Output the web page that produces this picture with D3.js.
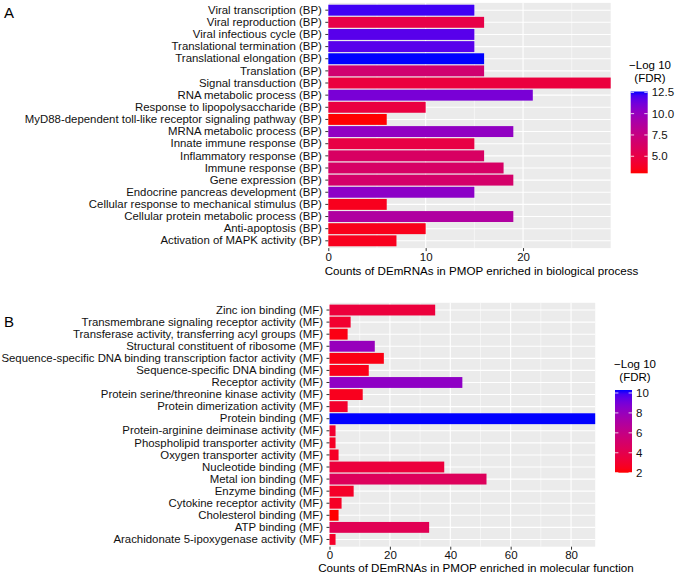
<!DOCTYPE html>
<html><head><meta charset="utf-8">
<script src="https://cdn.jsdelivr.net/npm/d3@7"></script>
<style>body{margin:0;background:#fff} svg{display:block;font-family:"Liberation Sans",Arial,sans-serif}</style>
</head><body><svg id="c" width="677" height="576"></svg>
<script>
// ---- Data (top-to-bottom order as displayed) ----
const bpCategories = [
  "Viral transcription (BP)", "Viral reproduction (BP)", "Viral infectious cycle (BP)",
  "Translational termination (BP)", "Translational elongation (BP)", "Translation (BP)",
  "Signal transduction (BP)", "RNA metabolic process (BP)", "Response to lipopolysaccharide (BP)",
  "MyD88-dependent toll-like receptor signaling pathway (BP)", "MRNA metabolic process (BP)",
  "Innate immune response (BP)", "Inflammatory response (BP)", "Immune response (BP)",
  "Gene expression (BP)", "Endocrine pancreas development (BP)",
  "Cellular response to mechanical stimulus (BP)", "Cellular protein metabolic process (BP)",
  "Anti-apoptosis (BP)", "Activation of MAPK activity (BP)"
];
const bpCounts = [15, 16, 15, 15, 16, 16, 29, 21, 10, 6, 19, 15, 16, 18, 19, 15, 6, 19, 10, 7];
const bpLogFDR = [12.2, 5.1, 11.8, 11.8, 12.6, 6.8, 4.7, 11.0, 4.8, 3.0, 10.2, 5.0, 6.2, 6.3, 6.5, 10.4, 3.6, 8.8, 3.5, 3.6];
const bpTicks = [0, 10, 20];
const bpLegendTicks = [5.0, 7.5, 10.0, 12.5];

const mfCategories = [
  "Zinc ion binding (MF)", "Transmembrane signaling receptor activity (MF)",
  "Transferase activity, transferring acyl groups (MF)", "Structural constituent of ribosome (MF)",
  "Sequence-specific DNA binding transcription factor activity (MF)",
  "Sequence-specific DNA binding (MF)", "Receptor activity (MF)",
  "Protein serine/threonine kinase activity (MF)", "Protein dimerization activity (MF)",
  "Protein binding (MF)", "Protein-arginine deiminase activity (MF)",
  "Phospholipid transporter activity (MF)", "Oxygen transporter activity (MF)",
  "Nucleotide binding (MF)", "Metal ion binding (MF)", "Enzyme binding (MF)",
  "Cytokine receptor activity (MF)", "Cholesterol binding (MF)", "ATP binding (MF)",
  "Arachidonate 5-ipoxygenase activity (MF)"
];
const mfCounts = [35, 7, 6, 15, 18, 13, 44, 11, 6, 88, 2, 2, 3, 38, 52, 8, 4, 3, 33, 2];
const mfLogFDR = [3.4, 3.0, 2.3, 8.0, 2.3, 2.4, 8.3, 2.5, 2.9, 10.3, 3.0, 2.7, 2.7, 3.4, 4.5, 2.8, 2.7, 2.0, 4.2, 2.8];
const mfTicks = [0, 20, 40, 60, 80];
const mfLegendTicks = [2, 4, 6, 8, 10];

const xTitleBP = "Counts of DEmRNAs in PMOP enriched in biological process";
const xTitleMF = "Counts of DEmRNAs in PMOP enriched in molecular function";

// ---- Drawing ----
const svg = d3.select("#c");
svg.append("rect").attr("width", 677).attr("height", 576).attr("fill", "#fff");

function drawPanel(cfg) {
  const g = svg.append("g");
  const x = d3.scaleLinear().domain([0, cfg.xMax]).range([cfg.left, cfg.right]);
  const y = d3.scaleBand().domain(cfg.categories).range([cfg.top, cfg.bottom])
    .paddingInner(0.1).paddingOuter(0.15);
  const color = d3.scaleLinear().domain(d3.extent(cfg.fdr)).range(["red", "blue"])
    .interpolate(d3.interpolateLab);

  g.append("rect").attr("x", cfg.left).attr("y", cfg.top)
    .attr("width", cfg.right - cfg.left).attr("height", cfg.bottom - cfg.top).attr("fill", "#EBEBEB");
  const minor = cfg.ticks.slice(0, -1).map((t, i) => (t + cfg.ticks[i + 1]) / 2);
  const step = cfg.ticks[1] - cfg.ticks[0];
  const last = cfg.ticks[cfg.ticks.length - 1] + step / 2;
  if (last < cfg.xMax) minor.push(last);
  g.selectAll(".mn").data(minor).enter().append("line")
    .attr("x1", d => x(d)).attr("x2", d => x(d)).attr("y1", cfg.top).attr("y2", cfg.bottom)
    .attr("stroke", "#fff").attr("stroke-width", 0.55);
  g.selectAll(".mj").data(cfg.ticks).enter().append("line")
    .attr("x1", d => x(d)).attr("x2", d => x(d)).attr("y1", cfg.top).attr("y2", cfg.bottom)
    .attr("stroke", "#fff").attr("stroke-width", 1.1);
  g.selectAll(".hg").data(cfg.categories).enter().append("line")
    .attr("x1", cfg.left).attr("x2", cfg.right)
    .attr("y1", d => y(d) + y.bandwidth() / 2).attr("y2", d => y(d) + y.bandwidth() / 2)
    .attr("stroke", "#fff").attr("stroke-width", 1.1);

  g.selectAll(".bar").data(cfg.categories).enter().append("rect")
    .attr("x", x(0)).attr("y", d => y(d))
    .attr("width", (d, i) => x(cfg.counts[i]) - x(0))
    .attr("height", y.bandwidth())
    .attr("fill", (d, i) => color(cfg.fdr[i]));

  const yAxis = g.append("g").attr("transform", `translate(${cfg.left},0)`)
    .call(d3.axisLeft(y).tickSize(3).tickPadding(3.5));
  yAxis.select(".domain").remove();
  yAxis.selectAll("line").attr("stroke", "#333").attr("stroke-width", 1);
  yAxis.selectAll("text").attr("fill", "#111").style("font-size", "11.4px")
    .style("font-family", '"Liberation Sans", Arial, sans-serif');

  const xAxis = g.append("g").attr("transform", `translate(0,${cfg.bottom})`)
    .call(d3.axisBottom(x).tickValues(cfg.ticks).tickFormat(d3.format("d")).tickSize(3).tickPadding(1.5));
  xAxis.select(".domain").remove();
  xAxis.selectAll("line").attr("stroke", "#333").attr("stroke-width", 1);
  xAxis.selectAll("text").attr("fill", "#111").style("font-size", "11.5px")
    .style("font-family", '"Liberation Sans", Arial, sans-serif');

  g.append("text").attr("x", cfg.titleX).attr("y", cfg.titleY).attr("text-anchor", "middle")
    .attr("fill", "#000").style("font-size", "11.6px").text(cfg.xTitle);

  g.append("text").attr("x", 4).attr("y", cfg.letterY).attr("fill", "#000")
    .style("font-size", "15px").text(cfg.letter);

  const lg = cfg.legend;
  const ext = d3.extent(cfg.fdr);
  const ly = d3.scaleLinear().domain(ext).range([lg.bottom, lg.top]);
  const gid = "grad" + cfg.letter;
  const grad = svg.append("defs").append("linearGradient").attr("id", gid)
    .attr("x1", 0).attr("y1", 1).attr("x2", 0).attr("y2", 0);
  d3.range(0, 1.0001, 0.05).forEach(t => {
    grad.append("stop").attr("offset", t).attr("stop-color", color(ext[0] + t * (ext[1] - ext[0])));
  });
  g.append("rect").attr("x", lg.x).attr("y", lg.top).attr("width", lg.w)
    .attr("height", lg.bottom - lg.top).attr("fill", `url(#${gid})`);
  lg.ticks.forEach(t => {
    const yy = ly(t);
    g.append("line").attr("x1", lg.x).attr("x2", lg.x + lg.w / 5).attr("y1", yy).attr("y2", yy)
      .attr("stroke", "#fff").attr("stroke-width", 0.8);
    g.append("line").attr("x1", lg.x + lg.w * 4 / 5).attr("x2", lg.x + lg.w).attr("y1", yy).attr("y2", yy)
      .attr("stroke", "#fff").attr("stroke-width", 0.8);
    g.append("text").attr("x", lg.x + lg.w + 4).attr("y", yy).attr("dy", "0.36em")
      .attr("fill", "#111").style("font-size", "11.5px").text(lg.fmt(t));
  });
  g.append("text").attr("x", lg.titleX).attr("y", lg.titleY).attr("text-anchor", "middle")
    .attr("fill", "#000").style("font-size", "11.5px").text("\u2212Log 10");
  g.append("text").attr("x", lg.titleX).attr("y", lg.titleY + 12.5).attr("text-anchor", "middle")
    .attr("fill", "#000").style("font-size", "11.5px").text("(FDR)");
}

drawPanel({
  letter: "A", letterY: 17.5,
  categories: bpCategories, counts: bpCounts, fdr: bpLogFDR, ticks: bpTicks, xMax: 29,
  left: 328.3, right: 610.7, top: 2.9, bottom: 248.1,
  xTitle: xTitleBP, titleX: 481.5, titleY: 275,
  legend: { x: 630.7, w: 17, top: 91.5, bottom: 173.3, ticks: bpLegendTicks,
            fmt: d3.format(".1f"), titleX: 650, titleY: 69 }
});
drawPanel({
  letter: "B", letterY: 327,
  categories: mfCategories, counts: mfCounts, fdr: mfLogFDR, ticks: mfTicks, xMax: 88,
  left: 329.5, right: 595.2, top: 302.8, bottom: 546.7,
  xTitle: xTitleMF, titleX: 476, titleY: 572,
  legend: { x: 615, w: 17, top: 390, bottom: 472.7, ticks: mfLegendTicks,
            fmt: d3.format("d"), titleX: 635, titleY: 368 }
});
</script></body></html>
